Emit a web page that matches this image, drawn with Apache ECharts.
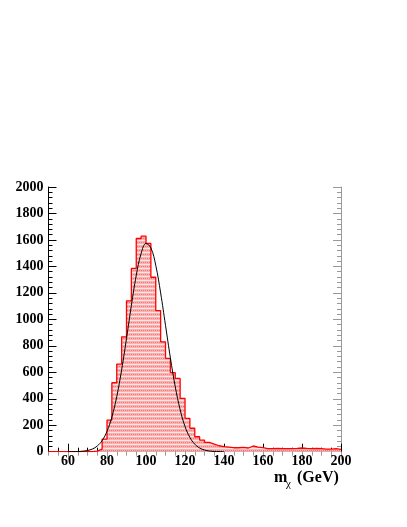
<!DOCTYPE html>
<html>
<head>
<meta charset="utf-8">
<script src="https://cdn.jsdelivr.net/npm/echarts@6/dist/echarts.min.js"></script>
<style>
  html, body { margin: 0; padding: 0; background: #fff; }
  #chart { width: 407px; height: 527px; }
</style>
</head>
<body>
<div id="chart"></div>
<script>
// histogram binning (GeV)
const binStart = 50;
const binWidth = 2.5;
// entries per bin, 50 -> 200 GeV
const counts = [
  0, 0, 0, 0, 0, 0, 0, 0, 0, 5,
  20, 95, 239, 521, 662, 868, 1140, 1385, 1611, 1629,
  1573, 1318, 1066, 830, 705, 597, 554, 403, 252, 177,
  113, 88, 71, 58, 45, 38, 35, 30, 30, 33,
  28, 43, 35, 30, 23, 23, 25, 23, 23, 23,
  25, 28, 25, 23, 25, 23, 20, 20, 23, 18
];
// gaussian fit curve
const fitX = [60, 62.5, 65, 67.5, 70, 72.5, 75, 77.5, 80, 82.5, 85, 87.5, 90, 92.5, 95, 97.5,
  100, 102.5, 105, 107.5, 110, 112.5, 115, 117.5, 120, 122.5, 125, 127.5, 130, 132.5, 135, 137.5, 140];
const fitY = [0, 0.5, 1.5, 4, 9, 20, 43, 84, 154, 262, 416, 618, 855, 1105, 1332, 1498,
  1573, 1540, 1408, 1200, 955, 709, 491, 318, 191, 108, 57, 28, 13, 5, 2, 1, 0];
const xMajorTicks = [60, 80, 100, 120, 140, 160, 180, 200];

const histData = counts.map((c, i) => [binStart + i * binWidth, c]);
histData.push([binStart + counts.length * binWidth, counts[counts.length - 1]]);
const fitData = fitX.map((x, i) => [x, fitY[i]]);

// ROOT-like hatched fill
const pat = document.createElement("canvas");
pat.width = 4;
pat.height = 4;
const pctx = pat.getContext("2d");
pctx.fillStyle = "#f9b2b2";
pctx.fillRect(0, 0, 4, 4);
pctx.fillStyle = "#ffe4e4";
pctx.fillRect(0, 0, 4, 1);
pctx.fillStyle = "#f27878";
pctx.fillRect(1, 2, 1, 1);
pctx.fillRect(3, 2, 1, 1);

const font = "Liberation Serif";
const gridBox = { left: 48.5, right: 66, top: 187, bottom: 75.3 };

const chart = echarts.init(document.getElementById("chart"));
chart.setOption({
  animation: false,
  backgroundColor: "#fff",
  grid: [
    Object.assign({}, gridBox),
    Object.assign({}, gridBox)
  ],
  xAxis: [
    {
      gridIndex: 0, type: "value", position: "bottom", min: 50, max: 200,
      axisLine: { lineStyle: { color: "#000", width: 1 } },
      axisTick: { inside: true, length: 8, customValues: xMajorTicks, lineStyle: { color: "#000" } },
      axisLabel: { customValues: xMajorTicks, margin: 3, color: "#000", fontFamily: font, fontWeight: "bold", fontSize: 14 },
      splitLine: { show: false }
    },
    {
      gridIndex: 0, type: "value", position: "top", min: 50, max: 200,
      axisLine: { lineStyle: { color: "#999", width: 1 } },
      axisTick: { inside: true, length: 8, customValues: xMajorTicks, lineStyle: { color: "#999" } },
      axisLabel: { show: false },
      splitLine: { show: false }
    },
    {
      gridIndex: 1, type: "value", position: "bottom", min: 50, max: 200, interval: 5,
      axisLine: { show: false },
      axisTick: { inside: true, length: 4, lineStyle: { color: "#000" } },
      axisLabel: { show: false },
      splitLine: { show: false }
    },
    {
      gridIndex: 1, type: "value", position: "top", min: 50, max: 200, interval: 5,
      axisLine: { show: false },
      axisTick: { inside: true, length: 4, lineStyle: { color: "#999" } },
      axisLabel: { show: false },
      splitLine: { show: false }
    }
  ],
  yAxis: [
    {
      gridIndex: 0, type: "value", position: "left", min: 0, max: 2000, interval: 200,
      axisLine: { show: true, lineStyle: { color: "#000", width: 1 } },
      axisTick: { show: true, inside: true, length: 8, lineStyle: { color: "#000" } },
      axisLabel: {
        margin: 5, color: "#000", fontFamily: font, fontWeight: "bold", fontSize: 14,
        formatter: (v) => String(v)
      },
      splitLine: { show: false }
    },
    {
      gridIndex: 0, type: "value", position: "right", min: 0, max: 2000, interval: 200,
      axisLine: { show: true, lineStyle: { color: "#999", width: 1 } },
      axisTick: { show: true, inside: true, length: 8, lineStyle: { color: "#999" } },
      axisLabel: { show: false },
      splitLine: { show: false }
    },
    {
      gridIndex: 1, type: "value", position: "left", min: 0, max: 2000, interval: 40,
      axisLine: { show: false },
      axisTick: { show: true, inside: true, length: 4, lineStyle: { color: "#000" } },
      axisLabel: { show: false },
      splitLine: { show: false }
    },
    {
      gridIndex: 1, type: "value", position: "right", min: 0, max: 2000, interval: 40,
      axisLine: { show: false },
      axisTick: { show: true, inside: true, length: 4, lineStyle: { color: "#999" } },
      axisLabel: { show: false },
      splitLine: { show: false }
    }
  ],
  series: [
    {
      name: "hist",
      type: "line",
      xAxisIndex: 0,
      yAxisIndex: 0,
      step: "end",
      data: histData,
      symbol: "none",
      lineStyle: { color: "#ff0000", width: 1.3 },
      areaStyle: { color: { image: pat, repeat: "repeat" }, opacity: 1 },
      z: 3
    },
    {
      name: "fit",
      type: "line",
      xAxisIndex: 0,
      yAxisIndex: 0,
      smooth: 0.4,
      data: fitData,
      symbol: "none",
      lineStyle: { color: "#000", width: 1 },
      z: 4
    }
  ],
  graphic: [
    {
      type: "text", left: 274, top: 470,
      style: { text: "m", font: "bold 16px 'Liberation Serif'", fill: "#000" }
    },
    {
      type: "text", left: 286, top: 479,
      style: { text: "χ", font: "11px 'Liberation Serif'", fill: "#000" }
    },
    {
      type: "text", left: 297, top: 470,
      style: { text: "(GeV)", font: "bold 16px 'Liberation Serif'", fill: "#000" }
    }
  ]
});
</script>
</body>
</html>
